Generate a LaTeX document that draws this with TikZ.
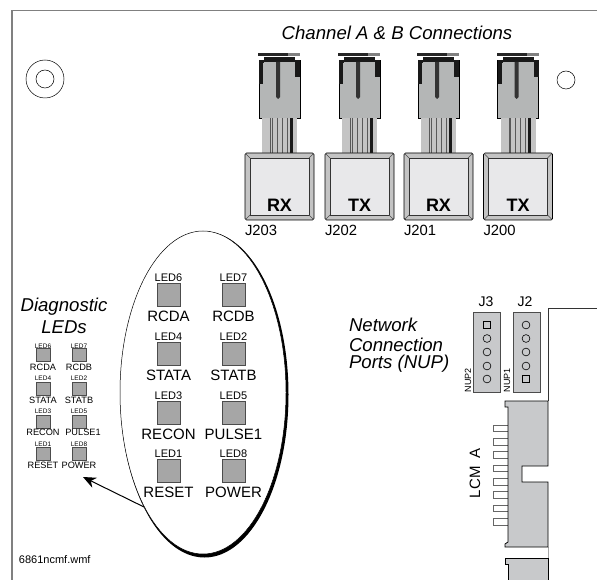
\documentclass[tikz,border=0pt]{standalone}
\usepackage{fontspec}
\setmainfont{Liberation Sans}
\usetikzlibrary{arrows.meta}
\definecolor{ledgray}{HTML}{A6A6A6}
\definecolor{lcmgray}{HTML}{C8C9CB}
\definecolor{bodygray}{HTML}{B4B6B6}
\definecolor{boardline}{HTML}{808080}
\definecolor{facegray}{HTML}{E8E8EA}
\definecolor{rimgray}{HTML}{C4C4C4}
\tikzset{
  x=1pt,y=-1pt,
  txt/.style={inner sep=0pt,outer sep=0pt,text=black},
  head/.style={txt,font=\fontsize{18.6}{20}\selectfont\itshape},
  bigled/.style={draw=black!70,line width=0.8pt,fill=ledgray},
  smallled/.style={draw=black!70,line width=0.7pt,fill=ledgray},
  pinhole/.style={draw=black,line width=0.6pt,fill=lcmgray},
  hdr/.style={draw=black!70,line width=0.8pt,fill=lcmgray},
  lcm/.style={draw=black,line width=0.8pt,fill=lcmgray},
}
\newcommand{\fiberconn}[4]{%
  \begin{scope}[shift={(#1,0)}]
    \fill[black!85] (13,53) rectangle (43,56);
    \fill[gray] (43,53) rectangle (55,56);
    \fill[bodygray] (14,60) rectangle (55,118);
    \draw[black,line width=0.8pt] (14,60) -- (14,118) -- (55,118) -- (55,60);
    \fill[black!90] (19,57) rectangle (50,62);
    \fill[black!90] (14,60) rectangle (18,84);
    \fill[black!90] (14,60) rectangle (19,63);
    \fill[black!90] (50,60) rectangle (55,77);
    \fill[black!80] (31,62) -- (35,62) -- (35,97) -- (33,99) -- (31,97) -- cycle;
    \fill[rimgray] (17,118) rectangle (52,153);
    \foreach \sx in {25.5,27,32,37,42}{\draw[black!65,line width=0.6pt] (\sx,118) -- (\sx,153);}
    \fill[black!90] (44.5,118) rectangle (47.5,153);
    \draw[black,line width=0.7pt,fill=rimgray,rounded corners=1.5pt] (0,153) rectangle (69,220);
    \draw[black!80,line width=0.6pt,fill=facegray] (5,158) rectangle (64,215);
    \draw[black!70,line width=0.5pt] (0.5,153.5) -- (5,158) (68.5,153.5) -- (64,158) (0.5,219.5) -- (5,215) (68.5,219.5) -- (64,215);
    \node[txt,font=\fontsize{18}{20}\selectfont\bfseries] (#3) at (34.5,205) {#2};
    \node[txt,font=\fontsize{14.8}{16}\selectfont,anchor=west] (#4) at (0,230) {#4};
  \end{scope}}
\begin{document}
\begin{tikzpicture}
\useasboundingbox (0,0) rectangle (597,580);
\fill[white] (0,0) rectangle (597,580);
% board outline
\draw[boardline,line width=1.3pt] (12,580) -- (12,10.5) -- (597,10.5);
\draw[black,line width=0.5pt] (45,79) circle (19) (45,79) circle (9);
\draw[black,line width=0.5pt] (566,80) circle (9);
\node[head] (chan) at (397,33) {Channel A \& B Connections};
\fiberconn{245}{RX}{rxa}{J203}
\fiberconn{325}{TX}{txa}{J202}
\fiberconn{404}{RX}{rxb}{J201}
\fiberconn{483.5}{TX}{txb}{J200}
% small panel
\node[head] (diag) at (64,307) {Diagnostic};
\node[head] (dled) at (64,327) {LEDs};
\foreach \cx/\tx/\lt/\nt/\ly/\ty/\by/\lname in {
  43/43/RCDA/LED6/346/348/367/sa,79/79/RCDB/LED7/346/348/367/sb,
  43/43/STATA/LED4/378/382/400/sc,79/79/STATB/LED2/378/382/400/sd,
  43/43/RECON/LED3/411/415/432/se,79/83/PULSE1/LED5/411/415/432/sf,
  43/43/RESET/LED1/444/447/465/sg,79/79/POWER/LED8/444/447/465/sh}{
  \draw[smallled] (\cx-7,\ty) rectangle (\cx+7,\ty+13);
  \node[txt,font=\fontsize{6.5}{7}\selectfont] at (\cx,\ly) {\nt};
  \node[txt,font=\fontsize{9.2}{10}\selectfont] (\lname) at (\tx,\by) {\lt};
}
% ellipse
\fill[black] (204.5,394.5) ellipse (84 and 163);
\draw[black,line width=0.5pt,fill=white] (203,392.5) ellipse (83 and 161.5);
\foreach \cx/\lt/\nt/\ty in {
  168.5/RCDA/LED6/283,233.5/RCDB/LED7/283,
  168.5/STATA/LED4/342,233.5/STATB/LED2/342,
  168.5/RECON/LED3/401,233.5/PULSE1/LED5/401,
  168.5/RESET/LED1/459,233.5/POWER/LED8/459}{
  \draw[bigled] (\cx-11.5,\ty) rectangle (\cx+11.5,\ty+23);
  \node[txt,font=\fontsize{11}{12}\selectfont] at (\cx,\ty-5.5) {\nt};
  \node[txt,font=\fontsize{15}{16}\selectfont] at (\cx,\ty+33.5) {\lt};
}
\coordinate (arrowstart) at (144,507);
\coordinate (arrowtip) at (83,477);
\draw[black,line width=1pt,-{Stealth[length=13pt,width=11pt]}] (arrowstart) -- (arrowtip);
\node[txt,font=\fontsize{11}{12}\selectfont,anchor=west] (fname) at (19,560) {6861ncmf.wmf};
% network ports
\node[head,anchor=west] (n1) at (349,325) {Network};
\node[head,anchor=west] (n2) at (349,345) {Connection};
\node[head,anchor=west] (n3) at (349,364) {Ports (NUP)};
\draw[hdr] (473,312) rectangle (500,392);
\draw[hdr] (513,312) rectangle (540,392);
\node[txt,font=\fontsize{14}{15}\selectfont] (j3) at (486,302) {J3};
\node[txt,font=\fontsize{14}{15}\selectfont] (j2) at (525,302) {J2};
\foreach \py in {338.5,352,366,379}{\draw[pinhole] (487,\py) circle (3.9);}
\draw[pinhole] (483.5,321.5) rectangle (490.5,328.5);
\foreach \py in {325,338.5,352,366}{\draw[pinhole] (526,\py) circle (3.9);}
\draw[pinhole] (522.5,375.5) rectangle (529.5,382.5);
\node[txt,font=\fontsize{9}{10}\selectfont,rotate=90,anchor=west] (nup2) at (468,392) {NUP2};
\node[txt,font=\fontsize{9}{10}\selectfont,rotate=90,anchor=west] (nup1) at (507,392) {NUP1};
% board edge
\draw[black!80,line width=0.8pt] (597,308) -- (548,308) -- (548,401);
\draw[black!35,line width=0.8pt] (548,547) -- (548,558);
\foreach \py in {425,438.4,451.7,465,478.4,491.7,505,518.4}{
  \draw[black!60,line width=0.8pt,fill=white] (508,\py) -- (493.5,\py) -- (493.5,\py+6.5) -- (508,\py+6.5);
}
\draw[lcm] (548,401) -- (505,401) -- (505,407) -- (508,407) -- (508,542) -- (505,544) -- (505,547) -- (548,547) -- (548,482) -- (522,482) -- (522,466) -- (548,466) -- cycle;
\draw[lcm] (548,580) -- (548,558) -- (505,558) -- (505,564) -- (508,564) -- (508,580);
\node[txt,font=\fontsize{15}{16}\selectfont,rotate=90] (lcma) at (475,473) {LCM\ \ A};
\end{tikzpicture}
\end{document}
